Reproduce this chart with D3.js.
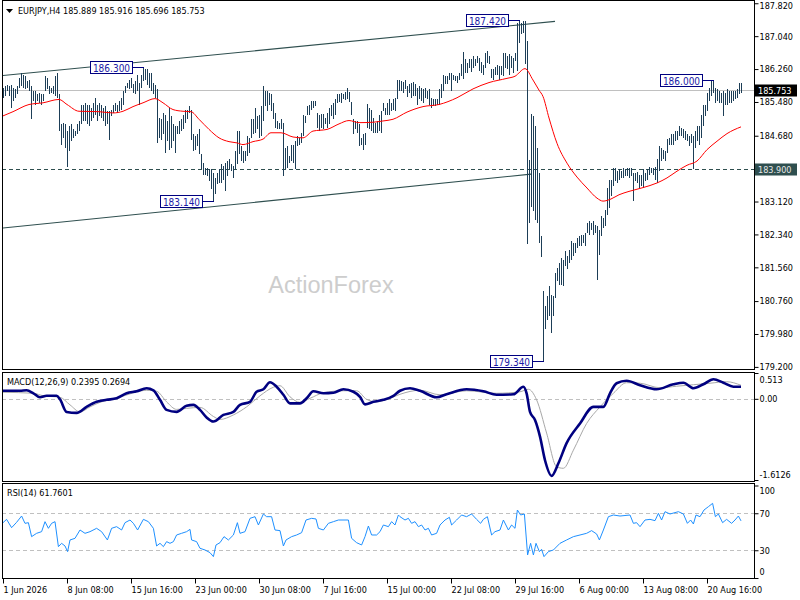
<!DOCTYPE html>
<html><head><meta charset="utf-8">
<script src="https://cdn.jsdelivr.net/npm/d3@7"></script>
<style>
body{margin:0;background:#fff}
svg{display:block}
text{font-family:"DejaVu Sans Condensed","DejaVu Sans",sans-serif;font-size:9px;fill:#000}
</style>
</head><body>
<svg id="c" width="800" height="600"></svg>
<script>
// ---------- data ----------
const symbol = "EURJPY,H4";
const lastOHLC = [185.889, 185.916, 185.696, 185.753];
const lastPrice = 185.753;
const supportLevel = 183.90;

const highs = [
185.82,185.86,185.89,185.86,185.89,185.82,185.78,185.86,186.05,186.17,
186.13,186.09,185.97,186.01,185.86,185.74,185.74,185.66,185.70,185.66,
185.66,186.09,186.05,185.86,185.82,185.86,186.09,186.17,185.66,184.95,
184.99,184.95,184.79,184.91,184.95,184.83,184.79,184.95,185.03,185.42,
185.42,185.46,185.42,185.42,185.34,185.46,185.58,185.42,185.46,185.42,
185.34,185.38,185.26,185.26,185.30,185.42,185.46,185.42,185.50,185.58,
185.74,185.86,185.93,186.01,186.05,185.90,185.97,186.13,185.93,186.13,
186.30,186.25,186.25,186.17,186.17,185.93,185.89,185.78,185.11,185.07,
185.22,185.18,185.03,185.34,185.15,184.95,184.91,184.91,185.03,185.07,
185.18,185.30,185.30,185.38,185.30,184.71,184.67,184.71,184.83,184.24,
184.04,183.92,183.92,183.88,183.88,183.80,183.68,183.80,183.88,184.00,
183.96,184.04,184.08,184.12,184.00,183.96,184.32,184.79,184.79,184.43,
184.32,184.32,184.67,184.63,185.07,185.07,185.34,185.15,185.18,185.38,
185.85,185.75,185.74,185.70,185.67,185.46,185.22,185.03,184.99,185.07,
184.99,184.39,184.43,184.20,184.47,184.47,184.55,184.67,184.63,184.75,
185.18,185.14,185.38,185.42,185.50,185.50,185.50,185.22,185.18,185.20,
185.20,185.11,185.22,185.34,185.42,185.46,185.54,185.67,185.66,185.70,
185.67,185.72,185.80,185.72,185.48,185.07,185.04,185.03,184.95,184.63,
184.71,184.75,185.44,185.34,185.30,185.11,184.99,185.03,185.18,185.26,
185.46,185.34,185.46,185.54,185.46,185.54,185.58,186.01,186.00,185.97,
185.95,186.00,185.87,185.90,185.94,185.95,185.90,185.82,185.86,185.82,
185.78,185.82,185.74,185.78,185.58,185.54,185.56,185.54,185.79,185.90,
186.11,186.09,186.09,186.16,186.17,186.11,186.09,186.09,186.17,186.37,
186.66,186.49,186.41,186.50,186.49,186.57,186.49,186.58,186.53,186.42,
186.35,186.65,186.69,186.57,186.27,186.25,186.31,186.35,186.33,186.33,
186.65,186.65,186.57,186.61,186.57,186.53,186.65,187.36,187.42,187.36,
187.40,187.40,186.92,184.10,185.20,185.15,184.90,184.40,183.80,182.30,
181.00,180.64,180.87,181.11,180.91,180.87,181.43,181.55,181.66,181.78,
181.74,181.94,181.82,181.98,182.18,182.14,182.14,182.26,182.30,182.33,
182.33,182.37,182.61,182.65,182.61,182.65,182.57,182.53,182.45,182.77,
182.73,182.93,183.44,183.64,183.64,183.92,183.92,183.84,183.88,183.84,
183.92,183.88,183.92,183.92,183.92,183.80,183.80,183.82,183.76,183.74,
183.88,183.80,183.88,183.94,183.92,183.92,183.94,184.12,184.43,184.39,
184.35,184.32,184.61,184.63,184.71,184.71,184.79,184.79,184.91,184.87,
184.83,184.79,184.71,184.67,184.71,184.67,184.79,184.91,184.91,185.18,
185.42,185.42,185.70,185.82,185.97,186.00,185.82,185.78,185.74,185.70,
185.74,185.70,185.78,185.74,185.74,185.74,185.74,185.78,185.93,185.92];

const lows = [
185.58,185.62,185.74,185.62,185.34,185.50,185.58,185.66,185.82,185.86,
185.82,185.78,185.82,185.74,185.07,185.50,185.42,185.50,185.46,185.42,
185.50,185.74,185.78,185.66,185.70,185.66,185.62,185.58,184.79,184.47,
184.63,184.39,183.94,184.32,184.55,184.63,184.67,184.71,184.79,184.95,
185.03,185.03,184.95,184.91,185.03,185.11,185.18,185.03,185.15,185.11,
185.03,184.91,184.95,184.59,185.15,185.22,185.26,185.22,185.26,185.30,
185.42,185.70,185.82,185.78,185.82,185.70,185.66,185.74,185.42,185.82,
185.97,186.01,185.89,185.82,185.74,185.66,185.58,184.51,184.63,184.59,
184.71,184.28,184.55,184.35,184.39,184.55,184.28,184.71,184.71,184.79,
184.83,184.99,185.07,185.22,184.59,184.32,184.35,184.43,184.24,183.88,
183.76,183.76,183.72,183.60,183.41,183.14,183.29,183.53,183.56,183.56,
183.64,183.38,183.72,183.88,183.84,183.68,183.88,184.00,184.24,184.08,
184.04,184.08,184.20,184.28,184.63,184.71,184.75,184.83,184.63,184.67,
185.03,185.38,185.26,185.42,185.26,185.07,184.87,184.83,184.83,184.83,
183.72,183.88,183.92,184.04,184.08,184.04,183.88,184.43,184.47,184.51,
184.67,184.99,185.18,185.18,185.30,185.34,185.38,184.87,184.79,184.87,
184.83,184.95,184.87,184.95,185.14,185.07,185.18,185.46,185.48,185.46,
185.54,185.52,185.54,185.48,185.18,184.71,184.83,184.75,184.43,184.47,
184.35,184.47,184.87,184.83,184.79,184.75,184.75,184.75,184.79,184.75,
185.26,185.18,185.18,185.18,185.26,185.30,185.26,185.54,185.74,185.74,
185.70,185.78,185.60,185.70,185.58,185.62,185.62,185.42,185.54,185.50,
185.46,185.58,185.54,185.42,185.34,185.38,185.38,185.42,185.42,185.58,
185.74,185.90,185.90,186.00,185.74,186.00,185.97,185.94,186.01,186.09,
186.03,186.17,186.17,186.29,186.19,186.29,186.33,186.41,186.21,186.17,
186.13,186.29,186.41,186.37,186.05,186.01,186.11,186.13,186.01,186.13,
186.09,186.29,186.25,186.13,186.29,186.17,186.45,186.21,186.88,187.08,
187.12,186.37,182.12,182.62,183.00,182.90,182.68,182.62,182.14,181.80,
179.34,180.09,180.32,180.40,180.00,180.40,180.84,181.23,181.15,181.15,
181.11,181.59,181.51,181.66,181.74,181.82,181.90,182.02,182.06,182.06,
182.14,182.06,182.37,182.33,182.45,182.33,182.37,181.27,181.86,182.30,
182.49,182.53,182.81,182.97,183.24,183.48,183.60,183.56,183.64,183.68,
183.68,183.72,183.72,183.68,183.72,183.13,183.60,183.56,183.45,183.49,
183.45,183.60,183.64,183.76,183.80,183.76,183.64,183.56,183.84,184.08,
184.12,184.08,184.28,184.45,184.47,184.47,184.55,184.59,184.67,184.67,
184.63,184.59,184.55,184.43,184.51,183.88,184.39,184.55,184.47,184.63,
184.91,185.15,185.26,185.50,185.62,185.70,185.46,185.50,185.46,185.46,
185.15,185.42,185.42,185.46,185.46,185.50,185.54,185.58,185.66,185.70];

const maBar = [0,5,13,20,28,32,38,48,55,60,65,70,76,80,85,90,94,98,103,108,113,117,120,125,130,134,139,145,150,155,162,168,173,178,185,190,195,202,210,218,227,235,243,252,256,261,265,268,270,273,277,282,287,292,297,300,304,308,313,320,327,332,337,342,347,352,357,362,369];
const maValue = [185.15,185.25,185.42,185.46,185.54,185.42,185.26,185.25,185.22,185.26,185.37,185.46,185.56,185.46,185.30,185.26,185.25,185.07,184.83,184.63,184.54,184.51,184.47,184.54,184.60,184.75,184.75,184.65,184.63,184.79,184.83,184.96,185.04,184.99,185.00,185.03,185.07,185.24,185.37,185.42,185.58,185.79,185.94,186.04,186.09,186.27,186.00,185.76,185.61,185.10,184.50,184.03,183.70,183.44,183.20,183.13,183.18,183.28,183.36,183.45,183.56,183.68,183.84,183.98,184.08,184.35,184.55,184.73,184.89];

const macdBar = [0,8.5,11.8,15.2,18.5,21.8,26.8,28.5,31.8,36.8,41.8,46.8,51.8,56.8,61.8,66.8,71.8,75.2,78.5,81.8,86.8,91.8,95.2,98.5,101.8,105.2,110.2,115.2,118.5,123.5,126.8,130.2,133.5,136.8,140.2,143.5,148.5,151.8,155.2,160.2,165.2,170.2,175.2,178.5,181,185.2,190.2,195.2,198.5,203.5,208.5,216.8,221.8,231.8,240.2,246.8,255.2,260.2,261.8,263.5,266,268.5,271,274.3,277.7,281.8,288.5,295.2,300.2,303.5,306.8,311.8,318.5,326.8,335.2,340.2,345.2,350.2,355.2,360.2,365.2,369];
const macdValue = [0.16,0.16,0.17,0.11,0.03,0.06,0.06,-0.01,-0.26,-0.28,-0.16,-0.06,-0.02,0.01,0.11,0.15,0.21,0.17,-0.02,-0.22,-0.26,-0.14,-0.12,-0.22,-0.37,-0.45,-0.32,-0.26,-0.12,-0.06,0.14,0.19,0.33,0.24,0.08,-0.09,-0.09,0.01,0.15,0.11,0.12,0.19,0.14,0.04,-0.11,-0.06,-0.02,0.06,0.16,0.21,0.16,0.03,0.09,0.19,0.15,0.08,0.09,0.24,0.11,-0.26,-0.42,-0.75,-1.22,-1.53,-1.28,-0.88,-0.49,-0.16,-0.16,0.11,0.31,0.36,0.27,0.19,0.29,0.32,0.21,0.29,0.39,0.32,0.24,0.2395];

const signalBar = [0,15.2,20.2,28.5,33.5,38.5,43.5,48.5,56.8,65.2,71.8,76.8,81.8,86.8,91.8,98.5,105.2,108.5,115.2,121.8,128.5,135.2,138.5,143.5,148.5,153.5,160.2,170.2,176.8,181.8,186.8,193.5,198.5,208.5,218.5,231.8,246.8,258.5,262.7,266.8,271.8,276.8,280.2,285.2,291.8,298.5,305.2,311.8,318.5,328.5,336.8,345.2,353.5,361.8,369];
const signalValue = [0.13,0.11,0.06,0.03,-0.12,-0.26,-0.16,-0.07,0.01,0.12,0.17,0.15,-0.06,-0.21,-0.19,-0.17,-0.35,-0.41,-0.32,-0.16,0.06,0.23,0.26,0.04,-0.07,0.01,0.12,0.16,0.16,-0.01,-0.06,0.01,0.09,0.17,0.08,0.16,0.11,0.14,0.19,-0.02,-0.68,-1.35,-1.38,-1.02,-0.49,-0.16,0.11,0.32,0.31,0.22,0.25,0.28,0.31,0.34,0.2694];

const rsiBar = [0,1.8,4.3,6.8,9.3,11,12.7,14.3,16.8,19.3,21,22.7,24.3,26,27.7,29.3,31,32.3,33.5,36,38.5,41,43.5,46.8,49.3,52.2,54.3,56.8,59.3,61,63.5,65.2,67.3,70.2,72.7,75.2,76.8,78.5,80.2,81.8,83.5,85.2,86.8,89.3,91.8,93.5,94.3,96.8,98.5,101,103.5,105.2,106.5,108.5,110.5,112.7,115.2,117.2,118.5,121,123.5,126,127.7,130.2,131.8,134.3,136,138.5,140.2,141.5,144.3,146.8,149.3,151.5,154.3,156.5,157.7,160.2,162.7,165.2,167.7,172.7,174.3,176.8,179.3,181,182.7,184.3,186.8,188.5,190.2,192.7,194.3,196,197.7,
198.5,201,202.7,204.3,206,207.7,209.3,211,212.7,214.3,216.8,218.5,221,223.2,224.3,226.8,229.3,231.8,234.3,236.8,238.8,240.2,242.2,244.3,246,248.5,250.2,252.7,254.3,256,257.2,258.8,260.7,262.3,263.8,265.2,266.5,268.2,269.3,270.5,272.7,275.2,278.5,281.8,285.2,288.5,291.8,294.3,296.8,298.2,300.2,302.7,305.2,308.5,313.5,315.2,316.8,318.5,321,323.5,326,327.7,329.3,331,333.5,337.7,340.2,342.2,343.8,345.2,346.5,348.5,350.5,352.7,354.8,356.2,357.7,359.8,361.8,364.3,366,367.7,369];
const rsiValue = [59.8,63.4,54.4,60.2,67.0,59.1,59.8,44.7,48.3,50.1,60.9,53.7,59.1,60.9,33.9,37.5,34.6,28.5,41.1,42.9,51.9,48.3,50.1,53.7,50.1,41.1,53.7,55.5,51.9,59.8,62.7,59.1,51.9,63.4,60.9,53.7,34.6,37.5,33.9,39.3,37.5,39.3,46.5,48.3,50.1,52.6,41.1,39.3,32.1,30.3,27.4,23.1,35.7,38.2,44.7,41.1,46.5,59.8,48.3,50.1,64.5,66.3,57.3,69.2,66.3,66.3,51.9,51.2,34.6,41.1,44.7,46.5,49.0,62.7,64.5,63.8,53.7,51.9,59.1,60.9,62.7,62.7,42.9,38.2,35.7,44.7,56.2,46.5,46.5,50.1,57.3,55.5,60.9,57.3,68.1,
66.3,62.7,64.5,59.1,60.9,55.5,57.3,51.9,53.7,46.5,48.3,57.3,62.7,65.6,57.3,62.7,68.1,66.3,69.2,63.4,59.1,63.4,66.3,46.5,50.1,51.9,62.7,51.9,57.3,53.7,73.5,68.1,69.2,24.9,37.5,24.9,37.5,28.5,31.0,23.1,28.5,30.3,37.5,41.1,44.7,46.5,48.3,51.2,47.6,41.1,51.9,66.3,68.1,67.0,68.1,59.1,59.8,55.5,62.7,63.4,62.0,69.9,62.7,71.7,69.2,71.7,69.2,59.1,62.7,58.4,68.1,66.3,73.5,77.1,80.7,66.3,69.2,59.8,63.4,59.1,62.7,67.0,61.76];

const priceTicks = [187.82,187.04,186.26,185.48,184.68,183.90,183.12,182.34,181.56,180.76,179.98,179.20];
const macdTicks = [0.513, 0, -1.6126];
const macdTickText = ["0.513","0.00","-1.6126"];
const rsiTicks = [100,70,30,0];
const rsiLevels = [70,30];
const dateBars = [0,32,64,96,128,160,192,224,256,288,320,352];
const dateLabels = ["1 Jun 2026","8 Jun 08:00","15 Jun 16:00","23 Jun 00:00","30 Jun 08:00","7 Jul 16:00","15 Jul 00:00","22 Jul 08:00","29 Jul 16:00","6 Aug 00:00","13 Aug 08:00","20 Aug 16:00"];
const annoBar = [70,105,258,355,270];
const annoValue = [186.30,183.14,187.42,186.00,179.34];
const channelUpperBar = [-1.5,276], channelUpperValue = [186.10,187.39];
const channelLowerBar = [-0.5,264], channelLowerValue = [182.49,183.77];
const macdRange = [-1.6126, 0.513];

// ---------- layout ----------
const L = 2, R = 754;
const main = {top:2, bottom:369};
const macdP = {top:373, bottom:480};
const rsiP = {top:485.5, bottom:578};

const svg = d3.select("#c");
const x = d3.scaleLinear().domain([0,369]).range([3,741]);
const yM = d3.scaleLinear().domain([179.15,187.85]).range([main.bottom, main.top]);
const yD = d3.scaleLinear().domain(macdRange).range([macdP.bottom, macdP.top]);
const yR = d3.scaleLinear().domain([0,100]).range([rsiP.bottom, rsiP.top]);

const defs = svg.append("defs");
function clip(id,y0,y1){defs.append("clipPath").attr("id",id).append("rect").attr("x",L+1).attr("y",y0).attr("width",R-L-1).attr("height",y1-y0);}
clip("cm",1,369); clip("cd",372,481); clip("cr",484,578);

// watermark
svg.append("text").attr("x",331).attr("y",293).attr("text-anchor","middle")
  .style("font-family","'Liberation Sans',Arial,sans-serif").style("font-size","23.5px").style("fill","#cdcdcd").text("ActionForex");

// ---------- main panel ----------
const gm = svg.append("g").attr("clip-path","url(#cm)");
gm.append("line").attr("x1",L).attr("x2",R).attr("y1",Math.round(yM(lastPrice))+0.5).attr("y2",Math.round(yM(lastPrice))+0.5)
  .attr("stroke","#c0c0c0");
gm.append("line").attr("x1",L).attr("x2",R).attr("y1",Math.round(yM(supportLevel))+0.5).attr("y2",Math.round(yM(supportLevel))+0.5)
  .attr("stroke","#2f4f4f").attr("stroke-dasharray","4,3");
gm.append("line").attr("x1",x(channelUpperBar[0])).attr("x2",x(channelUpperBar[1]))
  .attr("y1",yM(channelUpperValue[0])).attr("y2",yM(channelUpperValue[1])).attr("stroke","#2f4f4f").attr("stroke-width",1.1);
gm.append("line").attr("x1",x(channelLowerBar[0])).attr("x2",x(channelLowerBar[1]))
  .attr("y1",yM(channelLowerValue[0])).attr("y2",yM(channelLowerValue[1])).attr("stroke","#2f4f4f").attr("stroke-width",1.1);

gm.append("g").selectAll("line").data(highs).join("line")
  .attr("x1",(d,i)=>Math.round(x(i))+0.5).attr("x2",(d,i)=>Math.round(x(i))+0.5)
  .attr("y1",d=>Math.round(yM(d)))
  .attr("y2",(d,i)=>Math.max(Math.round(yM(lows[i])),Math.round(yM(d))+2))
  .attr("stroke","#1d3e57").attr("stroke-width",1).attr("shape-rendering","crispEdges");

gm.append("path").datum(maBar.map((b,i)=>[b,maValue[i]]))
  .attr("d",d3.line().x(d=>x(d[0])).y(d=>yM(d[1])).curve(d3.curveMonotoneX))
  .attr("fill","none").attr("stroke","#ff0000").attr("stroke-width",1);

// annotations
annoBar.forEach((b,i)=>{
  const bx = Math.round(x(b)), by = Math.round(yM(annoValue[i]));
  svg.append("line").attr("x1",bx-10).attr("x2",bx+1).attr("y1",by+0.5).attr("y2",by+0.5).attr("stroke","#000080");
  svg.append("rect").attr("x",bx-52.5).attr("y",by-5.5).attr("width",42).attr("height",12)
    .attr("fill","#fff").attr("stroke","#000080");
  svg.append("text").attr("x",bx-31.5).attr("y",by+4.5).attr("text-anchor","middle")
    .style("font-size","10px").style("fill","#1a1aa6").text(annoValue[i].toFixed(3));
});

// ---------- MACD panel ----------
const gd = svg.append("g").attr("clip-path","url(#cd)");
gd.append("line").attr("x1",L).attr("x2",R).attr("y1",Math.round(yD(0))+0.5).attr("y2",Math.round(yD(0))+0.5)
  .attr("stroke","#c0c0c0").attr("stroke-dasharray","4,3");
gd.append("path").datum(signalBar.map((b,i)=>[b,signalValue[i]]))
  .attr("d",d3.line().x(d=>x(d[0])).y(d=>yD(d[1])).curve(d3.curveMonotoneX))
  .attr("fill","none").attr("stroke","#a8a8a8").attr("stroke-width",1);
gd.append("path").datum(macdBar.map((b,i)=>[b,macdValue[i]]))
  .attr("d",d3.line().x(d=>x(d[0])).y(d=>yD(d[1])).curve(d3.curveMonotoneX))
  .attr("fill","none").attr("stroke","#000080").attr("stroke-width",2.6);

// ---------- RSI panel ----------
const gr = svg.append("g").attr("clip-path","url(#cr)");
rsiLevels.forEach(v=>{
  gr.append("line").attr("x1",L).attr("x2",R).attr("y1",Math.round(yR(v))+0.5).attr("y2",Math.round(yR(v))+0.5)
    .attr("stroke","#c0c0c0").attr("stroke-dasharray","4,3");
});
gr.append("path").datum(rsiBar.map((b,i)=>[b,rsiValue[i]]))
  .attr("d",d3.line().x(d=>x(d[0])).y(d=>yR(d[1])))
  .attr("fill","none").attr("stroke","#1e90ff").attr("stroke-width",1);

// ---------- frames ----------
[[0.5,369.5],[372.5,481.5],[483.5,578.5]].forEach(([t,b])=>{
  svg.append("rect").attr("x",L+0.5).attr("y",t).attr("width",R-L).attr("height",b-t)
    .attr("fill","none").attr("stroke","#000").attr("stroke-width",1).attr("shape-rendering","crispEdges");
});

// ---------- axes ----------
function styleAxis(g){
  g.select(".domain").remove();
  g.selectAll(".tick line").attr("stroke","#000");
  g.selectAll(".tick text").style("font-size","9px").style("fill","#000")
    .style("font-family","'DejaVu Sans Condensed','DejaVu Sans',sans-serif");
}
const ay = svg.append("g").attr("transform",`translate(${R+0.5},0)`)
  .call(d3.axisRight(yM).tickValues(priceTicks).tickFormat(d3.format(".3f")).tickSize(4).tickPadding(1));
styleAxis(ay);
ay.selectAll(".tick").filter(d=>yM(d)<6).select("text").attr("dy","0.55em");

const ad = svg.append("g").attr("transform",`translate(${R+0.5},0)`)
  .call(d3.axisRight(yD).tickValues(macdTicks).tickFormat((d,i)=>macdTickText[i]).tickSize(4).tickPadding(1));
styleAxis(ad);
ad.selectAll(".tick").filter(d=>d===macdRange[1]).select("text").attr("dy","1.05em");
ad.selectAll(".tick").filter(d=>d===macdRange[0]).select("text").attr("dy","-0.3em");

const ar = svg.append("g").attr("transform",`translate(${R+0.5},0)`)
  .call(d3.axisRight(yR).tickValues(rsiTicks).tickSize(4).tickPadding(1));
styleAxis(ar);
ar.selectAll(".tick").filter(d=>d===100).select("text").attr("dy","0.85em");
ar.selectAll(".tick").filter(d=>d===0).select("text").attr("dy","-0.35em");

const ax = svg.append("g").attr("transform",`translate(0,578.5)`)
  .call(d3.axisBottom(x).tickValues(dateBars).tickFormat((d,i)=>dateLabels[i]).tickSize(5));
styleAxis(ax);
ax.selectAll(".tick text").attr("text-anchor","start").attr("x",0).attr("y",14).attr("dy","0");

// price boxes on axis
function axisBox(v,fill,tc){
  const yy = Math.round(yM(v));
  svg.append("rect").attr("x",755).attr("y",yy-5.5).attr("width",42).attr("height",12).attr("fill",fill);
  svg.append("text").attr("x",758).attr("y",yy+4).style("fill",tc).text(v.toFixed(3));
}
axisBox(lastPrice,"#000","#fff");
axisBox(supportLevel,"#2f4f4f","#e8e8e8");

// ---------- titles ----------
svg.append("path").attr("d","M6,9 L13,9 L9.5,13 Z").attr("fill","#000");
svg.append("text").attr("x",18).attr("y",14).text(symbol+"  "+lastOHLC.map(v=>v.toFixed(3)).join(" "));
svg.append("text").attr("x",7).attr("y",385).text("MACD(12,26,9) "+macdValue[macdValue.length-1].toFixed(4)+" "+signalValue[signalValue.length-1].toFixed(4));
svg.append("text").attr("x",7).attr("y",496).text("RSI(14) "+(61.7601).toFixed(4));
</script>
</body></html>
